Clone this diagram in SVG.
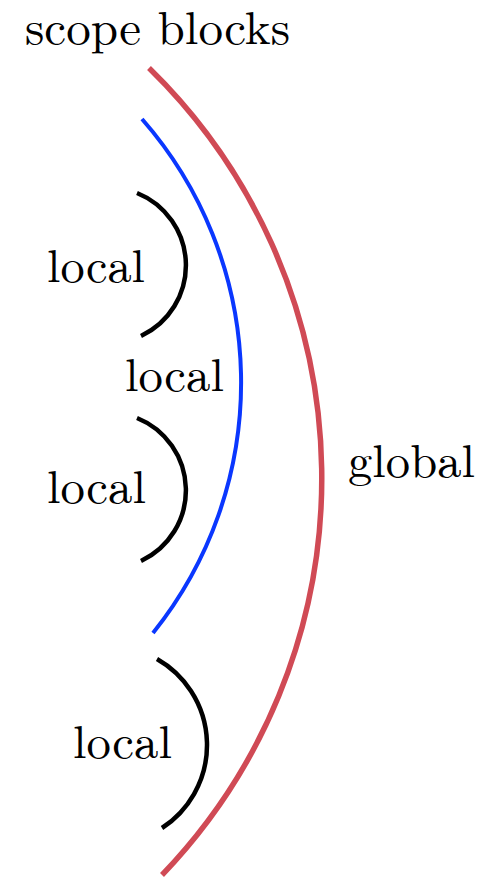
<svg xmlns="http://www.w3.org/2000/svg" width="491" height="877" viewBox="0 0 491 877">
<style>
text{font-family:"Latin Modern Roman","Liberation Serif","DejaVu Serif",serif;font-size:46px;fill:#000}
.arc{fill:none;stroke-linecap:butt}
.k{stroke:#000;stroke-width:4.5}
</style>
<rect width="491" height="877" fill="#fff"/>
<g id="title"><text x="25" y="44" font-size="44" textLength="265" lengthAdjust="spacingAndGlyphs">scope blocks</text></g>
<g id="connectors">
<path id="global-arc" class="arc" d="M149,68 A573,573 0 0 1 162,875" stroke="#d04a55" stroke-width="5.5"/>
<path id="local-arc" class="arc" d="M142,119 A400,400 0 0 1 153,633" stroke="#0a37ff" stroke-width="4"/>
<path id="local1-arc" class="arc k" d="M137,193 A78,78 0 0 1 141,336"/>
<path id="local2-arc" class="arc k" d="M137,418 A78,78 0 0 1 141,561"/>
<path id="local3-arc" class="arc k" d="M157,659 A99,99 0 0 1 162,828"/>
</g>
<g id="global"><text x="348" y="477" textLength="127" lengthAdjust="spacingAndGlyphs">global</text></g>
<g id="local-blue"><text x="125" y="391" textLength="99" lengthAdjust="spacingAndGlyphs">local</text></g>
<g id="local1"><text x="47" y="282" textLength="98" lengthAdjust="spacingAndGlyphs">local</text></g>
<g id="local2"><text x="47" y="503" textLength="99" lengthAdjust="spacingAndGlyphs">local</text></g>
<g id="local3"><text x="73" y="758" textLength="99" lengthAdjust="spacingAndGlyphs">local</text></g>
</svg>
